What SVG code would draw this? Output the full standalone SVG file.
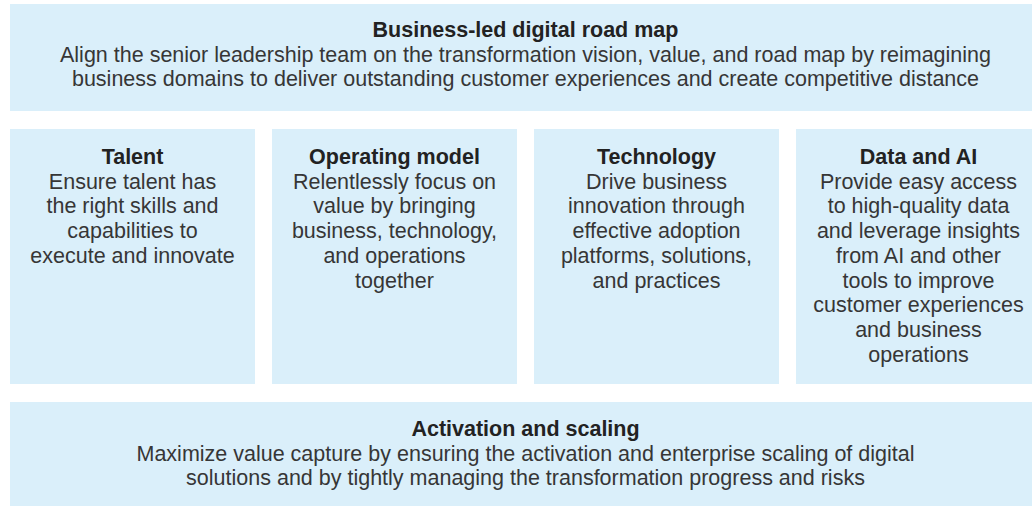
<svg xmlns="http://www.w3.org/2000/svg" width="1032" height="506" viewBox="0 0 1032 506">
<style>
.box{fill:#DAEFFA}
text{font-family:"Liberation Sans",Arial,sans-serif;font-size:21.5px;fill:#363636;text-anchor:middle}
.t{font-weight:bold;fill:#222}
</style>
<rect width="1032" height="506" fill="#fff"/>
<g id="roadmap">
<rect class="box" x="10" y="4" width="1031" height="107"/>
<text x="525.5" y="37" class="t">Business-led digital road map</text>
<text x="525.5" y="61.5">Align the senior leadership team on the transformation vision, value, and road map by reimagining</text>
<text x="525.5" y="86">business domains to deliver outstanding customer experiences and create competitive distance</text>
</g>
<g id="talent">
<rect class="box" x="10" y="129" width="245" height="255"/>
<text x="132.5" y="164" class="t">Talent</text>
<text x="132.5" y="188.7">Ensure talent has</text>
<text x="132.5" y="213.4">the right skills and</text>
<text x="132.5" y="238.1">capabilities to</text>
<text x="132.5" y="262.8">execute and innovate</text>
</g>
<g id="operating-model">
<rect class="box" x="272" y="129" width="245" height="255"/>
<text x="394.5" y="164" class="t">Operating model</text>
<text x="394.5" y="188.7">Relentlessly focus on</text>
<text x="394.5" y="213.4">value by bringing</text>
<text x="394.5" y="238.1">business, technology,</text>
<text x="394.5" y="262.8">and operations</text>
<text x="394.5" y="287.5">together</text>
</g>
<g id="technology">
<rect class="box" x="534" y="129" width="245" height="255"/>
<text x="656.5" y="164" class="t">Technology</text>
<text x="656.5" y="188.7">Drive business</text>
<text x="656.5" y="213.4">innovation through</text>
<text x="656.5" y="238.1">effective adoption</text>
<text x="656.5" y="262.8">platforms, solutions,</text>
<text x="656.5" y="287.5">and practices</text>
</g>
<g id="data-ai">
<rect class="box" x="796" y="129" width="245" height="255"/>
<text x="918.5" y="164" class="t">Data and AI</text>
<text x="918.5" y="188.7">Provide easy access</text>
<text x="918.5" y="213.4">to high-quality data</text>
<text x="918.5" y="238.1">and leverage insights</text>
<text x="918.5" y="262.8">from AI and other</text>
<text x="918.5" y="287.5">tools to improve</text>
<text x="918.5" y="312.2">customer experiences</text>
<text x="918.5" y="336.9">and business</text>
<text x="918.5" y="361.6">operations</text>
</g>
<g id="activation">
<rect class="box" x="10" y="402" width="1031" height="110"/>
<text x="525.5" y="436" class="t">Activation and scaling</text>
<text x="525.5" y="460.5">Maximize value capture by ensuring the activation and enterprise scaling of digital</text>
<text x="525.5" y="485">solutions and by tightly managing the transformation progress and risks</text>
</g>
<g id="connectors"/>
</svg>
